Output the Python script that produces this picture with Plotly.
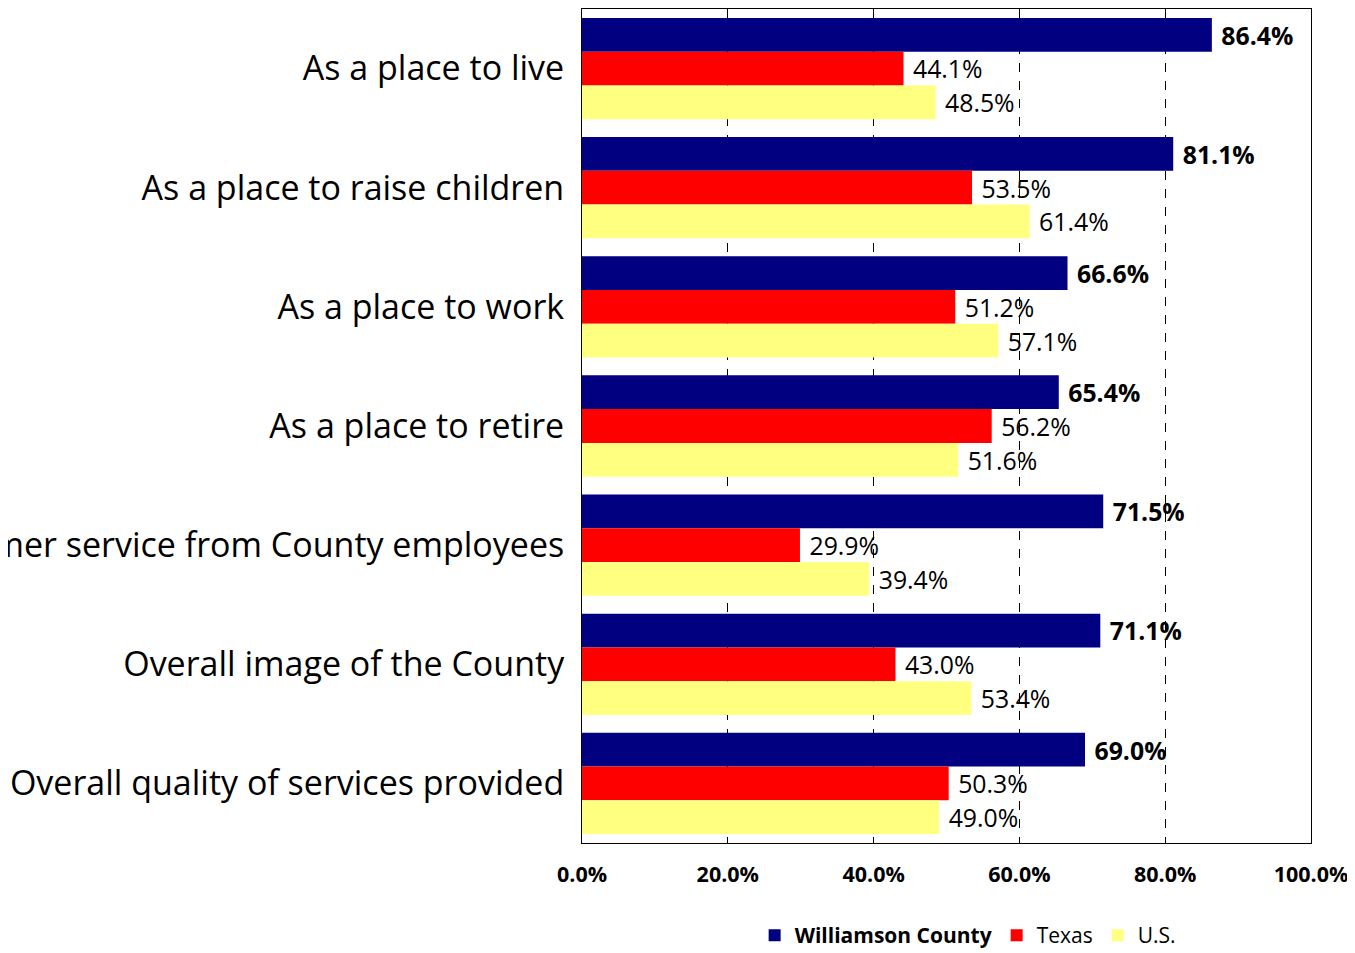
import plotly.graph_objects as go

categories = [
    "As a place to live",
    "As a place to raise children",
    "As a place to work",
    "As a place to retire",
    "Customer service from County employees",
    "Overall image of the County",
    "Overall quality of services provided",
]
williamson = [86.4, 81.1, 66.6, 65.4, 71.5, 71.1, 69.0]
texas = [44.1, 53.5, 51.2, 56.2, 29.9, 43.0, 50.3]
us = [48.5, 61.4, 57.1, 51.6, 39.4, 53.4, 49.0]

series = [
    ("<b>Williamson County</b>", williamson, "#000080", True),
    ("Texas", texas, "#FF0000", False),
    ("U.S.", us, "#FFFF80", False),
]

FONT = "Open Sans"
fig = go.Figure()
for name, vals, color, bold in series:
    fig.add_trace(go.Bar(
        y=categories, x=vals, name=name, orientation="h",
        marker=dict(color=color, line=dict(width=0)),
        text=[f"{v:.1f}%" for v in vals],
        texttemplate=(" <b>%{text}</b>" if bold else " %{text}"),
        textposition="outside", cliponaxis=False,
        textfont=dict(family=FONT, size=25, color="#000000"),
        hoverinfo="skip",
    ))

fig.update_layout(
    width=1347, height=945,
    barmode="group", bargap=0.15, bargroupgap=0,
    plot_bgcolor="white", paper_bgcolor="white",
    margin=dict(l=574, r=44, t=1, b=110, autoexpand=False),
    font=dict(family=FONT, color="#000000"),
    showlegend=True,
    legend=dict(orientation="h", x=0.529, xanchor="center", y=-0.111, yanchor="middle",
                font=dict(family=FONT, size=21), itemwidth=30, tracegroupgap=0),
)

fig.update_xaxes(
    range=[0, 100], tickvals=[0, 20, 40, 60, 80, 100],
    ticktext=["<b>0.0%</b>", "<b>20.0%</b>", "<b>40.0%</b>", "<b>60.0%</b>", "<b>80.0%</b>", "<b>100.0%</b>"],
    tickfont=dict(family=FONT, size=21.5), ticks="inside", ticklen=5, tickcolor="#000",
    showgrid=True, gridcolor="#000000", griddash="dash", gridwidth=1,
    showline=True, linecolor="#000000", linewidth=1, mirror=True,
    zeroline=False, ticklabelstandoff=12, automargin=False,
)
fig.update_yaxes(
    autorange="reversed", tickfont=dict(family=FONT, size=34),
    showline=True, linecolor="#000000", linewidth=1, mirror=True,
    ticks="", ticklabelstandoff=10, automargin=False,
)

fig.write_html("out.html")
